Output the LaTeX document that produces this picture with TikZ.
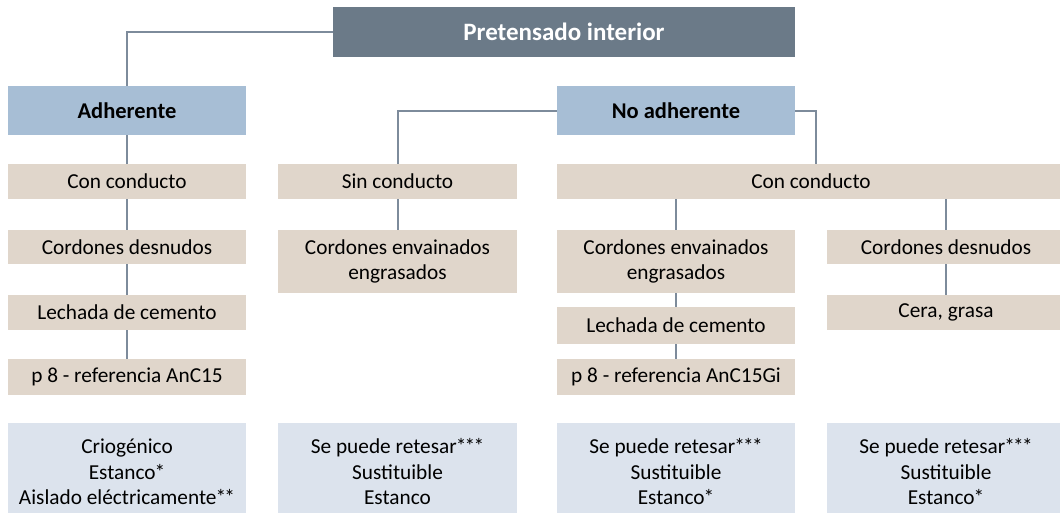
\documentclass[tikz,border=0pt]{standalone}
\usepackage{fontspec}
\setmainfont{Carlito}
\usetikzlibrary{positioning}
\definecolor{oscuro}{RGB}{107,122,136}
\definecolor{azul}{RGB}{167,190,213}
\definecolor{beige}{RGB}{224,214,203}
\definecolor{palido}{RGB}{220,227,237}
\definecolor{enlace}{RGB}{125,139,155}
\newcommand{\nota}[1]{\kern-1pt{\addfontfeature{LetterSpace=-8}#1}}

\begin{document}
\begin{tikzpicture}[
        x=1pt,
        y=-1pt,
        every node/.style={font=\fontsize{21.3}{25.5}\selectfont, inner sep=0pt, align=center},
        titulo/.style={fill=oscuro, text=white, font=\fontsize{25}{26}\selectfont\bfseries,
            minimum width=462pt, minimum height=50pt},
        tipo/.style={fill=azul, font=\fontsize{22.5}{26}\selectfont\bfseries,
            minimum width=238pt, minimum height=49pt},
        paso/.style={fill=beige, minimum width=238pt, minimum height=35pt},
        prop/.style={fill=palido, minimum width=238pt, minimum height=98pt},
        enlace/.style={draw=enlace, line width=2pt}
    ]
    \useasboundingbox (0,0) rectangle (1060,512);

    \node[titulo] (pre) at (564,32) {Pretensado interior};
    \node[tipo] (adh) at (127,110.5) {Adherente};
    \node[tipo] (noadh) at (676,110.5) {No adherente};

    % adherente
    \node[paso] (con1) at (127,181.5) {Con conducto};
    \node[paso, minimum height=34pt] (cord1) at (127,247) {Cordones desnudos};
    \node[paso] (lech1) at (127,312.5) {Lechada de cemento};
    \node[paso, minimum height=36pt] (ref1) at (127,377) {p 8 - referencia AnC15};
    \node[prop] (res1) at (127,472) {Criogénico\\Estanco\nota{*}\\Aislado eléctricamente\nota{**}};

    % no adherente, sin conducto
    \node[paso, minimum width=239pt] (sin) at (397.5,181.5) {Sin conducto};
    \node[paso, minimum width=239pt, minimum height=63pt] (env1) at (397.5,261.5)
        {Cordones envainados\\engrasados};
    \node[prop, minimum width=239pt] (res2) at (397.5,472) {Se puede retesar\nota{***}\\Sustituible\\Estanco};

    % no adherente, con conducto
    \node[paso, minimum width=508pt] (con2) at (811,181.5) {Con conducto};
    \node[paso, minimum height=63pt] (env2) at (676,261.5) {Cordones envainados\\engrasados};
    \node[paso, minimum height=37pt] (lech2) at (676,325.5) {Lechada de cemento};
    \node[paso, minimum height=36pt] (ref2) at (676,377) {p 8 - referencia AnC15Gi};
    \node[prop] (res3) at (676,472) {Se puede retesar\nota{***}\\Sustituible\\Estanco\nota{*}};

    \node[paso, minimum height=34pt] (cord2) at (946,247) {Cordones desnudos};
    \node[paso] (cera) at (946,312.5) {Cera, grasa};
    \node[prop] (res4) at (946,472) {Se puede retesar\nota{***}\\Sustituible\\Estanco\nota{*}};

    \coordinate (codo) at (816,164);

    \draw[enlace] (pre.west) -| (adh.north);
    \draw[enlace] (noadh.west) -| (sin.north);
    \draw[enlace] (noadh.east) -| (codo);

    \draw[enlace] (adh) -- (con1);
    \draw[enlace] (con1) -- (cord1);
    \draw[enlace] (cord1) -- (lech1);
    \draw[enlace] (lech1) -- (ref1);

    \draw[enlace] (sin) -- (env1);

    \draw[enlace] (env2.north) -- (env2.north |- con2.south);
    \draw[enlace] (env2) -- (lech2);
    \draw[enlace] (lech2) -- (ref2);

    \draw[enlace] (cord2.north) -- (cord2.north |- con2.south);
    \draw[enlace] (cord2) -- (cera);
\end{tikzpicture}
\end{document}
